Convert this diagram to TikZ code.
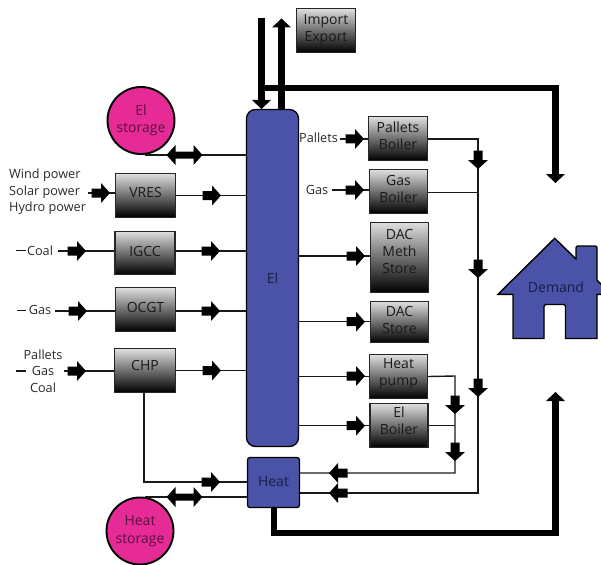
\documentclass[tikz,border=0pt]{standalone}
\usepackage{fontspec}
\setmainfont{Open Sans}
\definecolor{elblue}{HTML}{4B53A8}
\definecolor{storepink}{HTML}{E62B97}
\definecolor{lbl}{HTML}{2A2A2A}
\definecolor{onblue}{HTML}{1A1D45}
\definecolor{onpink}{HTML}{5A1040}
\tikzset{
  x=1pt,y=-1pt,
  every node/.style={font=\fontsize{12.7}{16.5}\selectfont,text=lbl,align=center,inner sep=0pt},
  bigtext/.style={font=\fontsize{14}{17}\selectfont},
  lift/.style={text depth=#1*2pt},
  gbox/.style={bigtext,text=black!90,draw=black!85,line width=1.4pt,top color=black!13,middle color=black!47,bottom color=black,minimum width=59pt,minimum height=43.5pt},
  bus/.style={bigtext,draw=black,line width=1.3pt,fill=elblue,text=onblue},
  store/.style={bigtext,circle,draw=black,line width=1.9pt,fill=storepink,minimum size=67pt,text=onpink},
  line/.style={draw=black!90,line width=1.4pt},
  fat/.style={draw=black,line width=6.4pt},
  mk/.pic={\fill[black] (-9.5,-4.5) rectangle (0,4.5) (0,-10) -- (9,0) -- (0,10) -- cycle;},
  bimk/.pic={\fill[black] (-9,-3.5) rectangle (9,3.5) (-9,-10) -- (-18,0) -- (-9,10) -- cycle (9,-10) -- (18,0) -- (9,10) -- cycle;},
  fathead/.pic={\fill[black] (0,-9.5) -- (9,0) -- (0,9.5) -- cycle;}
}
\begin{document}
\begin{tikzpicture}
\useasboundingbox (0,0) rectangle (601,564);
% free-end coordinates and junctions
\coordinate (impin) at (261.5,18);
\coordinate (impend) at (261.5,100);
\coordinate (expend) at (281.5,27.5);
\coordinate (topstart) at (261.5,88);
\coordinate (topcorner) at (555.5,88);
\coordinate (topend) at (555.5,174);
\coordinate (botcorner) at (274,533);
\coordinate (botcornerb) at (555.5,533);
\coordinate (botend) at (555.5,401);
\coordinate (jA) at (478,139);
\coordinate (jAb) at (478,493);
\coordinate (jB) at (455,376);
\coordinate (jBb) at (455,473);
\coordinate (chpc) at (144,482);
% nodes
\node[bus,minimum width=52pt,minimum height=337pt,rounded corners=9pt] (el) at (272.5,278) {El};
\node[bus,minimum width=52pt,minimum height=50pt,rounded corners=2.5pt] (heat) at (273.5,482.5) {\raisebox{2pt}{Heat}};
\node[store] (elst) at (141,120.5) {El\\[.5pt]storage};
\node[store] (hst) at (140,531) {Heat\\[.5pt]storage};
\node[gbox,lift=3.5,minimum width=60pt] (vres) at (145.5,195.5) {VRES};
\node[gbox,lift=2,minimum width=60pt] (igcc) at (145,253) {IGCC};
\node[gbox,lift=2.5,minimum width=60pt] (ocgt) at (145.5,309.5) {OCGT};
\node[gbox,lift=5,minimum width=61pt] (chp) at (145,370.5) {CHP};
\node[gbox,lift=2.5] (imp) at (326,30.5) {Import\\Export};
\node[gbox,lift=3] (pb) at (398,138.5) {Pallets\\Boiler};
\node[gbox,lift=3,minimum width=58pt] (gb) at (398.5,191.5) {Gas\\Boiler};
\node[gbox,lift=6.5,minimum width=58pt,minimum height=70pt] (dac1) at (399.5,257.5) {DAC\\Meth\\Store};
\node[gbox,lift=2.5,minimum width=58pt,minimum height=41pt] (dac2) at (399.5,322) {DAC\\Store};
\node[gbox,lift=5,minimum width=58pt] (hp) at (398.5,376.5) {Heat\\pump};
\node[gbox,lift=4.5,minimum width=58pt] (eb) at (399,425.5) {El\\Boiler};
% labels
\node[align=left,anchor=west] (wind) at (9,192) {Wind power\\Solar power\\Hydro power};
\node (coal) at (40,250.5) {Coal};
\node (gasa) at (40,310) {Gas};
\node (pgc) at (43,371) {Pallets\\Gas\\Coal};
\node (pal) at (318.5,138) {Pallets};
\node (gasb) at (317,189.5) {Gas};
% house
\begin{scope}
\clip (480,225) rectangle (601,345);
\path[draw=black,line width=1.4pt,fill=elblue,line join=miter] (498,294.3) -- (554.7,238.3) -- (576,259) -- (576,248) [rounded corners=2pt] -- (576,246) -- (597,246) [sharp corners] -- (597,280) -- (611,294.3) -- (597,294.3) -- (597,338.5) -- (565.5,338.5) [rounded corners=2pt] -- (565.5,304.5) -- (544,304.5) [sharp corners] -- (544,338.5) -- (513,338.5) -- (513,294.3) -- cycle;
\end{scope}
\node[bigtext,text=onblue] (dem) at (556,287.7) {Demand};
% fat flows
\draw[fat] (impin) -- (impend);
\pic[rotate=-90] at (impend) {fathead};
\draw[fat] (el.north -| expend) -- (expend);
\pic[rotate=90] at (expend) {fathead};
\draw[fat,line join=miter] (topstart) -- (topcorner) -- (topend);
\pic[rotate=-90] at (topend) {fathead};
\draw[fat,line join=miter] (heat.south -| botcorner) -- (botcorner) -- (botcornerb) -- (botend);
\pic[rotate=90] at (botend) {fathead};
% inputs on the left
\coordinate (da) at (16,250.5); \coordinate (db) at (26,250.5);
\draw[line] (da) -- (db);
\coordinate (ca) at (58,251); \draw[line] (ca) -- (ca -| igcc.west);
\pic at (77,251) {mk};
\coordinate (da2) at (17,310.5); \coordinate (db2) at (26,310.5);
\draw[line] (da2) -- (db2);
\coordinate (cb) at (55,311); \draw[line] (cb) -- (cb -| ocgt.west);
\pic at (78,311) {mk};
\coordinate (da3) at (16,371); \coordinate (db3) at (26,371);
\draw[line] (da3) -- (db3);
\coordinate (cc) at (64,371); \draw[line,line width=2.2pt] (cc) -- (cc -| chp.west);
\pic at (77,371) {mk};
\coordinate (cd) at (88,193); \draw[line] (cd) -- (cd -| vres.west);
\pic at (101,193) {mk};
% generators to El
\draw[line] (vres.east) -- (vres.east -| el.west);
\pic at (212,195.5) {mk};
\coordinate (yi) at (0,251);
\draw[line] (yi -| igcc.east) -- (yi -| el.west);
\pic at (211,251) {mk};
\coordinate (yo) at (0,311);
\draw[line] (yo -| ocgt.east) -- (yo -| el.west);
\pic at (211,311) {mk};
\draw[line] (chp.east) -- (chp.east -| el.west);
\pic at (212,370.5) {mk};
% CHP to heat
\draw[line,line join=miter] (chp.south -| chpc) -- (chpc) -- (chpc -| heat.west);
\pic at (211,482) {mk};
% storages
\coordinate (ys) at (145,155);
\draw[line] (ys) -- (ys -| el.west);
\pic at (184.5,155) {bimk};
\coordinate (yh) at (145,497);
\draw[line] (yh) -- (yh -| heat.west);
\pic at (184.5,497) {bimk};
% right side inputs
\coordinate (pa) at (340,139); \draw[line] (pa) -- (pa -| pb.west);
\pic at (355,139) {mk};
\coordinate (pc) at (332,190); \draw[line] (pc) -- (pc -| gb.west);
\pic at (355,190) {mk};
\coordinate (yd) at (0,256);
\draw[line] (yd -| el.east) -- (yd -| dac1.west);
\pic at (356,256) {mk};
\coordinate (ye) at (0,321.7);
\draw[line] (ye -| el.east) -- (ye -| dac2.west);
\pic at (356,321.7) {mk};
\draw[line] (hp.west -| el.east) -- (hp.west);
\pic at (356,376) {mk};
\draw[line] (eb.west -| el.east) -- (eb.west);
\pic at (356,425.7) {mk};
% heat collection
\draw[line,line join=miter] (jA -| pb.east) -- (jA) -- (jAb) -- (jAb -| heat.east);
\pic[rotate=-90] at (478,160) {mk};
\pic[rotate=-90] at (478,269) {mk};
\pic[rotate=-90] at (478,388) {mk};
\pic[rotate=180] at (338,493) {mk};
\coordinate (yg) at (0,192.3);
\draw[line] (yg -| gb.east) -- (yg -| jA);
\draw[line,line join=miter] (hp.east) -- (jB) -- (jBb) -- (jBb -| heat.east);
\pic[rotate=-90] at (455,405) {mk};
\pic[rotate=-90] at (455,452) {mk};
\pic[rotate=180] at (338,473) {mk};
\draw[line] (eb.east) -- (eb.east -| jB);
\end{tikzpicture}
\end{document}
